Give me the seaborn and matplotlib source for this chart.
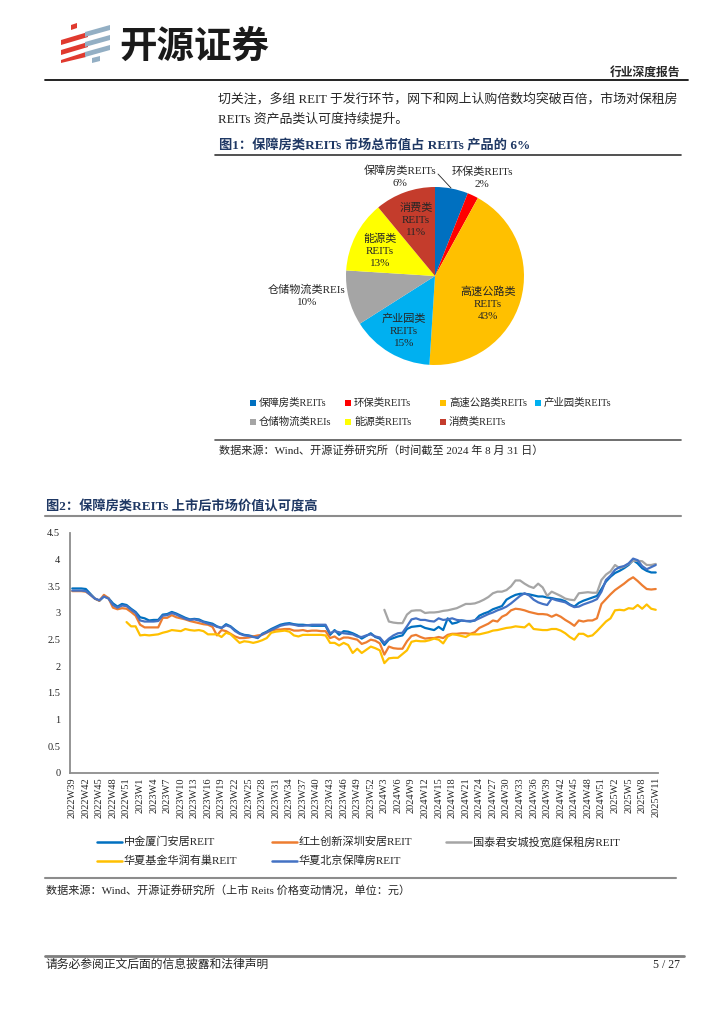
import numpy as np
import pandas as pd
import seaborn as sns
import matplotlib.pyplot as plt
from matplotlib.patches import Polygon, Rectangle
from matplotlib.lines import Line2D

# ---- data -------------------------------------------------------------
pie_names = ['保障房类REITs', '环保类REITs', '高速公路类REITs', '产业园类REITs',
             '仓储物流类REIs', '能源类REITs', '消费类REITs']
pie_label_names = ['保障房类REITs', '环保类REITs', '高速公路类\nREITs', '产业园类\nREITs',
                   '仓储物流类REIs', '能源类\nREITs', '消费类\nREITs']
pie_shares = [6, 2, 43, 15, 10, 13, 11]
pie_colors = ['#0070C0', '#FF0000', '#FFC000', '#00B0F0', '#A5A5A5', '#FFFF00', '#C43C2C']

weeks = ([f'2022W{w}' for w in range(39, 54)] + [f'2023W{w}' for w in range(1, 53)]
         + [f'2024W{w}' for w in range(1, 53)] + [f'2025W{w}' for w in range(1, 12)])

fund_names = ['中金厦门安居REIT', '红土创新深圳安居REIT', '国泰君安城投宽庭保租房REIT',
              '华夏基金华润有巢REIT', '华夏北京保障房REIT']
fund_colors = ['#0070C0', '#ED7D31', '#A5A5A5', '#FFC000', '#4472C4']

zj_xiamen = [3.46, 3.46, 3.46, 3.45, 3.36, 3.27, 3.23, 3.31, 3.28, 3.18,
             3.12, 3.17, 3.15, 3.08, 3.02, 2.92, 2.90, 2.86, 2.87, 2.87,
             2.97, 2.98, 3.02, 2.99, 2.95, 2.91, 2.88, 2.89, 2.88, 2.84,
             2.82, 2.80, 2.75, 2.72, 2.79, 2.75, 2.68, 2.62, 2.59, 2.58,
             2.56, 2.53, 2.61, 2.65, 2.70, 2.74, 2.78, 2.80, 2.81, 2.79,
             2.78, 2.78, 2.77, 2.76, 2.76, 2.76, 2.76, 2.59, 2.68, 2.59,
             2.66, 2.65, 2.62, 2.58, 2.52, 2.57, 2.62, 2.55, 2.52, 2.40,
             2.50, 2.53, 2.56, 2.58, 2.70, 2.74, 2.75, 2.76, 2.72, 2.70,
             2.68, 2.74, 2.68, 2.90, 2.80, 2.82, 2.86, 2.85, 2.84, 2.86,
             2.95, 2.99, 3.02, 3.07, 3.10, 3.13, 3.25, 3.30, 3.34, 3.36,
             3.36, 3.35, 3.33, 3.31, 3.31, 3.29, 3.28, 3.26, 3.25, 3.22,
             3.16, 3.12, 3.19, 3.23, 3.26, 3.29, 3.32, 3.45, 3.59, 3.68,
             3.75, 3.79, 3.84, 3.90, 3.99, 3.93, 3.84, 3.79, 3.76, 3.76]

ht_shenzhen = [3.41, 3.41, 3.41, 3.40, 3.34, 3.27, 3.23, 3.34, 3.28, 3.10,
               3.07, 3.09, 3.08, 3.02, 2.95, 2.78, 2.73, 2.73, 2.73, 2.73,
               2.91, 2.91, 2.96, 2.92, 2.90, 2.88, 2.85, 2.83, 2.81, 2.79,
               2.78, 2.74, 2.58, 2.68, 2.66, 2.61, 2.56, 2.53, 2.53, 2.54,
               2.56, 2.58, 2.59, 2.63, 2.67, 2.69, 2.69, 2.70, 2.70, 2.67,
               2.67, 2.68, 2.66, 2.67, 2.67, 2.66, 2.66, 2.53, 2.56, 2.50,
               2.54, 2.54, 2.52, 2.50, 2.42, 2.45, 2.50, 2.48, 2.43, 2.22,
               2.37, 2.34, 2.33, 2.33, 2.47, 2.57, 2.59, 2.55, 2.52, 2.53,
               2.53, 2.55, 2.53, 2.59, 2.61, 2.61, 2.62, 2.62, 2.61, 2.64,
               2.72, 2.76, 2.80, 2.86, 2.84, 2.93, 2.97, 3.05, 3.08, 3.07,
               3.05, 3.02, 3.00, 2.98, 2.98, 2.97, 2.93, 2.97, 2.93, 2.87,
               2.82, 2.76, 2.86, 2.84, 2.86, 2.86, 2.90, 3.17, 3.26, 3.35,
               3.43, 3.49, 3.55, 3.62, 3.67, 3.60, 3.52, 3.45, 3.44, 3.45]

gtja_kuanting = [None] * 69 + [
    3.06,
    2.84, 2.82, 2.81, 2.81, 2.97, 3.04, 3.05, 3.05, 3.00, 3.01,
    3.01, 3.02, 3.04, 3.05, 3.07, 3.09, 3.13, 3.17, 3.17, 3.18,
    3.21, 3.25, 3.30, 3.37, 3.40, 3.40, 3.43, 3.50, 3.61, 3.61,
    3.55, 3.50, 3.47, 3.55, 3.48, 3.32, 3.40, 3.36, 3.32, 3.27,
    3.25, 3.24, 3.37, 3.38, 3.39, 3.38, 3.38, 3.62, 3.72, 3.78,
    3.90, 3.84, 3.87, 3.92, 3.98, 3.98, 3.97, 3.90, 3.90, 3.92]

hx_youchao = [None] * 12 + [
    2.83, 2.75, 2.75, 2.58, 2.59, 2.58, 2.59, 2.60,
    2.63, 2.65, 2.68, 2.67, 2.66, 2.70, 2.68, 2.67, 2.68, 2.66,
    2.60, 2.60, 2.60, 2.55, 2.63, 2.60, 2.52, 2.44, 2.47, 2.46,
    2.44, 2.46, 2.49, 2.53, 2.63, 2.65, 2.66, 2.67, 2.65, 2.58,
    2.56, 2.59, 2.59, 2.59, 2.59, 2.59, 2.58, 2.44, 2.44, 2.39,
    2.44, 2.40, 2.25, 2.33, 2.25, 2.31, 2.37, 2.34, 2.30, 2.06,
    2.15, 2.16, 2.16, 2.23, 2.30, 2.46, 2.48, 2.47, 2.47, 2.49,
    2.52, 2.50, 2.43, 2.56, 2.60, 2.59, 2.57, 2.55, 2.60, 2.60,
    2.60, 2.62, 2.64, 2.67, 2.68, 2.70, 2.72, 2.73, 2.75, 2.74,
    2.73, 2.80, 2.70, 2.69, 2.68, 2.68, 2.70, 2.70, 2.67, 2.62,
    2.55, 2.50, 2.61, 2.61, 2.56, 2.58, 2.66, 2.75, 2.84, 2.90,
    3.05, 3.06, 3.05, 3.09, 3.08, 3.15, 3.08, 3.16, 3.08, 3.06]

hx_beijing = [3.42, 3.42, 3.42, 3.41, 3.34, 3.27, 3.24, 3.31, 3.27, 3.15,
              3.10, 3.14, 3.13, 3.06, 3.00, 2.86, 2.84, 2.84, 2.84, 2.85,
              2.95, 2.96, 3.00, 2.97, 2.93, 2.89, 2.87, 2.88, 2.86, 2.83,
              2.80, 2.78, 2.74, 2.72, 2.77, 2.74, 2.66, 2.61, 2.58, 2.57,
              2.55, 2.54, 2.60, 2.64, 2.68, 2.72, 2.76, 2.78, 2.79, 2.78,
              2.76, 2.76, 2.77, 2.78, 2.78, 2.78, 2.78, 2.62, 2.66, 2.64,
              2.62, 2.61, 2.60, 2.56, 2.55, 2.58, 2.60, 2.56, 2.54, 2.44,
              2.52, 2.58, 2.62, 2.63, 2.75, 2.88, 2.90, 2.87, 2.87, 2.85,
              2.84, 2.90, 2.87, 2.88, 2.90, 2.87, 2.86, 2.85, 2.85, 2.86,
              2.90, 2.94, 2.98, 3.01, 3.05, 3.08, 3.12, 3.18, 3.25, 3.32,
              3.37, 3.33, 3.25, 3.20, 3.17, 3.15, 3.27, 3.24, 3.22, 3.20,
              3.15, 3.11, 3.12, 3.16, 3.19, 3.22, 3.26, 3.40, 3.62, 3.70,
              3.81, 3.86, 3.88, 3.93, 4.02, 3.99, 3.88, 3.82, 3.86, 3.90]

# ---- style ------------------------------------------------------------
sns.set_theme(style="white")
FONT = ['Liberation Serif', 'Noto Sans CJK SC']
plt.rcParams['font.family'] = FONT
plt.rcParams['axes.unicode_minus'] = False

NAVY = '#1F3864'
W, H = 724, 1024


def fx(x):
    return x / W


def fy(y):
    return 1 - y / H


def hline(fig, x0, x1, y, color, lw):
    fig.add_artist(Line2D([fx(x0), fx(x1)], [fy(y), fy(y)], color=color, lw=lw))


fig = plt.figure(figsize=(7.24, 10.24), dpi=100)
fig.patch.set_facecolor('white')

# ---- header -----------------------------------------------------------
red_strokes = [[(71, 25), (77, 23), (77, 28), (71, 30)],
               [(61, 40), (88, 32), (88, 37), (61, 45)],
               [(61, 50), (88, 42), (88, 47), (61, 55)],
               [(61, 60), (86, 52), (86, 57), (61, 63)]]
gray_strokes = [[(85, 32), (110, 25), (110, 30), (85, 37)],
                [(85, 42), (110, 35), (110, 40), (85, 47)],
                [(85, 52), (110, 45), (110, 50), (85, 57)],
                [(92, 58), (100, 56), (100, 61), (92, 63)]]
for pts in red_strokes:
    fig.add_artist(Polygon([(fx(x), fy(y)) for x, y in pts], closed=True,
                           color='#E03A2F', lw=0))
for pts in gray_strokes:
    fig.add_artist(Polygon([(fx(x), fy(y)) for x, y in pts], closed=True,
                           color='#93AFC4', lw=0))
fig.text(fx(119), fy(46), '开源证券', fontsize=27, fontweight='bold',
         family=['Noto Sans CJK SC'], va='center', ha='left', color='#1A1A1A')

fig.text(fx(680), fy(73), '行业深度报告', fontsize=8.5, fontweight='bold',
         ha='right', va='center')
hline(fig, 45, 688, 80, '#111111', 1.3)

fig.text(fx(218), fy(99), '切关注，多组 REIT 于发行环节，网下和网上认购倍数均突破百倍，市场对保租房',
         fontsize=9.3, va='center')
fig.text(fx(218), fy(119), 'REITs 资产品类认可度持续提升。', fontsize=9.3, va='center')

# ---- figure 1 : pie ---------------------------------------------------
fig.text(fx(219), fy(146), '图1：保障房类REITs 市场总市值占 REITs 产品的 6%',
         fontsize=9.5, fontweight='bold', color=NAVY, va='center')
hline(fig, 215, 681, 155, '#333333', 1.2)

cx, cy, r = 435, 276, 89
ax_pie = fig.add_axes([fx(cx - r), fy(cy + r), 2 * r / W, 2 * r / H])
ax_pie.pie(pie_shares, colors=pie_colors, startangle=90, counterclock=False,
           radius=1, wedgeprops=dict(linewidth=0))
ax_pie.set_xlim(-1, 1)
ax_pie.set_ylim(-1, 1)
ax_pie.set_aspect('equal')
ax_pie.axis('off')

label_pos = [(400, 177), (482, 178), (488, 304), (404, 331),
             (307, 296), (380, 251), (416, 220)]
for name, share, (px, py) in zip(pie_label_names, pie_shares, label_pos):
    fig.text(fx(px), fy(py), f'{name}\n{share}%', fontsize=8, ha='center',
             va='center', linespacing=1.45)
fig.add_artist(Line2D([fx(438), fx(451)], [fy(174), fy(188)], color='#222222', lw=0.6))

leg_cols = [250, 345, 440, 535]
leg_rows = [403, 422]
for i, (name, col) in enumerate(zip(pie_names, pie_colors)):
    r_i, c_i = divmod(i, 4)
    x0, y0 = leg_cols[c_i], leg_rows[r_i]
    fig.add_artist(Rectangle((fx(x0), fy(y0 + 3)), 6 / W, 6 / H, color=col, lw=0))
    fig.text(fx(x0 + 9), fy(y0), name, fontsize=7.5, va='center')

hline(fig, 215, 681, 440, '#555555', 1.2)
fig.text(fx(219), fy(451), '数据来源：Wind、开源证券研究所（时间截至 2024 年 8 月 31 日）',
         fontsize=8, va='center')

# ---- figure 2 : lines -------------------------------------------------
fig.text(fx(46), fy(507), '图2：保障房类REITs 上市后市场价值认可度高',
         fontsize=9.5, fontweight='bold', color=NAVY, va='center')
hline(fig, 45, 681, 516, '#8C8C8C', 1.5)

series = [zj_xiamen, ht_shenzhen, gtja_kuanting, hx_youchao, hx_beijing]
frames = []
for name, vals in zip(fund_names, series):
    frames.append(pd.DataFrame({'idx': np.arange(len(weeks)), 'week': weeks,
                                'price': pd.to_numeric(pd.Series(vals), errors='coerce'),
                                'fund': name}))
df = pd.concat(frames).dropna(subset=['price'])

ax = fig.add_axes([fx(70), fy(773), 588 / W, 240 / H])
sns.lineplot(data=df, x='idx', y='price', hue='fund', hue_order=fund_names,
             palette=fund_colors, linewidth=1.6, legend=False, errorbar=None, ax=ax)
ax.set_xlim(-0.5, len(weeks) - 0.5)
ax.set_ylim(0, 4.5)
ax.set_yticks(np.arange(0, 4.51, 0.5))
ax.set_yticklabels([f'{v:g}' for v in np.arange(0, 4.51, 0.5)], fontsize=7.5)
ax.set_xticks(range(0, len(weeks), 3))
ax.set_xticklabels(weeks[::3], rotation=90, fontsize=7.5)
ax.tick_params(axis='y', direction='in', length=3, width=0.8, color='#8C8C8C', pad=7)
ax.tick_params(axis='x', length=0, pad=3)
ax.set_xlabel('')
ax.set_ylabel('')
ax.grid(False)
for side in ['top', 'right']:
    ax.spines[side].set_visible(False)
for side in ['left', 'bottom']:
    ax.spines[side].set_color('#8C8C8C')
    ax.spines[side].set_linewidth(1.3)

leg_x = [97, 272, 446]
leg_y = [842, 861]
for i, (name, col) in enumerate(zip(fund_names, fund_colors)):
    r_i, c_i = divmod(i, 3)
    x0, y0 = leg_x[c_i], leg_y[r_i]
    fig.add_artist(Line2D([fx(x0), fx(x0 + 25)], [fy(y0), fy(y0)], color=col, lw=1.8))
    fig.text(fx(x0 + 27), fy(y0), name, fontsize=8, va='center')

hline(fig, 45, 676, 878, '#8C8C8C', 1.5)
fig.text(fx(46), fy(890), '数据来源：Wind、开源证券研究所（上市 Reits 价格变动情况，单位：元）',
         fontsize=8, va='center')

# ---- footer -----------------------------------------------------------
hline(fig, 45, 684, 956, '#7F7F7F', 2.0)
fig.text(fx(46), fy(965), '请务必参阅正文后面的信息披露和法律声明', fontsize=8.5, va='center')
fig.text(fx(680), fy(965), '5 / 27', fontsize=8.5, va='center', ha='right')

fig.savefig('out.png', dpi=100)
